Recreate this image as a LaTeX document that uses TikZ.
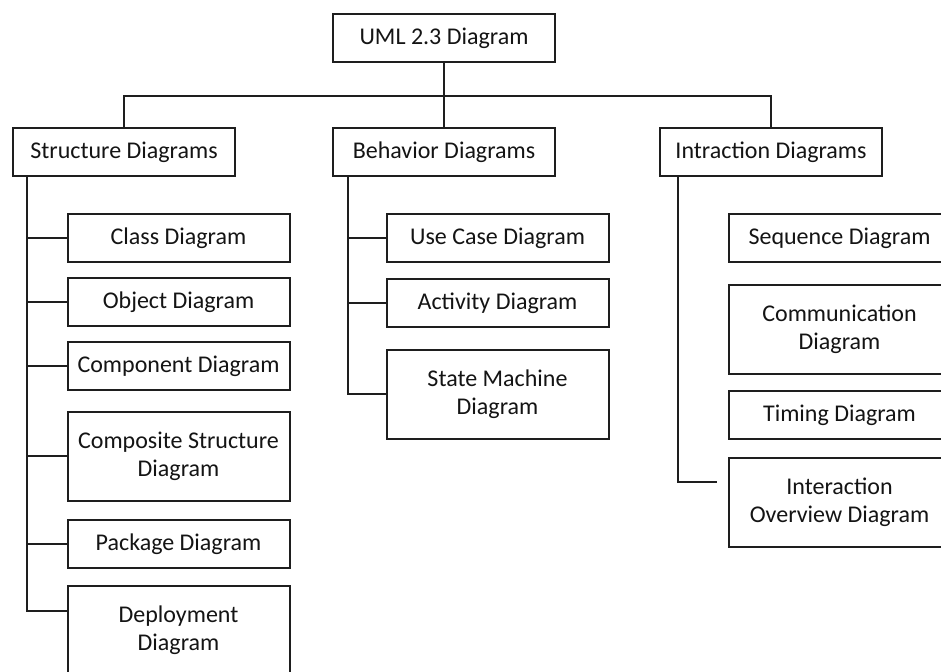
\documentclass[tikz,border=0pt]{standalone}
\usepackage{fontspec}
\setmainfont{Carlito}
\usetikzlibrary{calc}
\definecolor{linec}{HTML}{1E1E1E}
\definecolor{textc}{HTML}{141414}
\begin{document}
\begin{tikzpicture}[x=1pt,y=-1pt,
  box/.style={draw=linec, line width=2pt, fill=white, inner sep=0pt,
    minimum width=222pt, minimum height=48pt, align=center,
    font=\fontsize{24}{28}\selectfont, text=textc},
  tallbox/.style={box, minimum height=89pt},
  wire/.style={draw=linec, line width=2pt}]
\useasboundingbox (0,0) rectangle (941,671);
\clip (0,0) rectangle (941,671);
\fill[white] (0,0) rectangle (941,671);

% root and the three families
\node[box] (uml) at (444,38) {UML 2.3 Diagram};
\node[box] (sd) at (124,152) {Structure Diagrams};
\node[box] (bd) at (444,152) {Behavior Diagrams};
\node[box] (id) at (771,152) {Intraction Diagrams};

% structure diagrams
\node[box] (cls) at (178.5,238) {Class Diagram};
\node[box] (obj) at (178.5,302) {Object Diagram};
\node[box] (cmp) at (178.5,366) {Component Diagram};
\node[tallbox] (cst) at (178.5,456) {Composite Structure\\Diagram};
\node[box] (pkg) at (178.5,544) {Package Diagram};
\node[tallbox] (dep) at (178.5,630.5) {Deployment\\Diagram};

% behavior diagrams
\node[box] (uc) at (497.5,238) {Use Case Diagram};
\node[box] (act) at (497.5,303) {Activity Diagram};
\node[tallbox] (stm) at (497.5,394) {State Machine\\Diagram};

% interaction diagrams
\node[box] (seq) at (839.5,238) {Sequence Diagram};
\node[tallbox] (com) at (839.5,329) {Communication\\Diagram};
\node[box] (tim) at (839.5,415) {Timing Diagram};
\node[tallbox] (iov) at (839.5,502) {Interaction\\Overview Diagram};

% trunk positions and free ends
\coordinate (bus) at (444,96);
\coordinate (sdt) at (27,0);
\coordinate (bdt) at (348,0);
\coordinate (idt) at (678,0);
\coordinate (depin) at ($(dep.north west)+(0,26)$);
\coordinate (iogap) at ($(iov.west)+(-11,-20)$);

% top level connectors
\draw[wire] (uml.south) -- (bd.north);
\draw[wire] (sd.north) |- (bus) -| (id.north);

% structure branch
\draw[wire] (sdt |- sd.south) |- (depin);
\foreach \n in {cls,obj,cmp,cst,pkg}
  \draw[wire] (sdt |- \n.west) -- (\n.west);

% behavior branch
\draw[wire] (bdt |- bd.south) |- (stm.west);
\foreach \n in {uc,act}
  \draw[wire] (bdt |- \n.west) -- (\n.west);

% interaction branch
\draw[wire] (idt |- id.south) |- (iogap);
\end{tikzpicture}
\end{document}
